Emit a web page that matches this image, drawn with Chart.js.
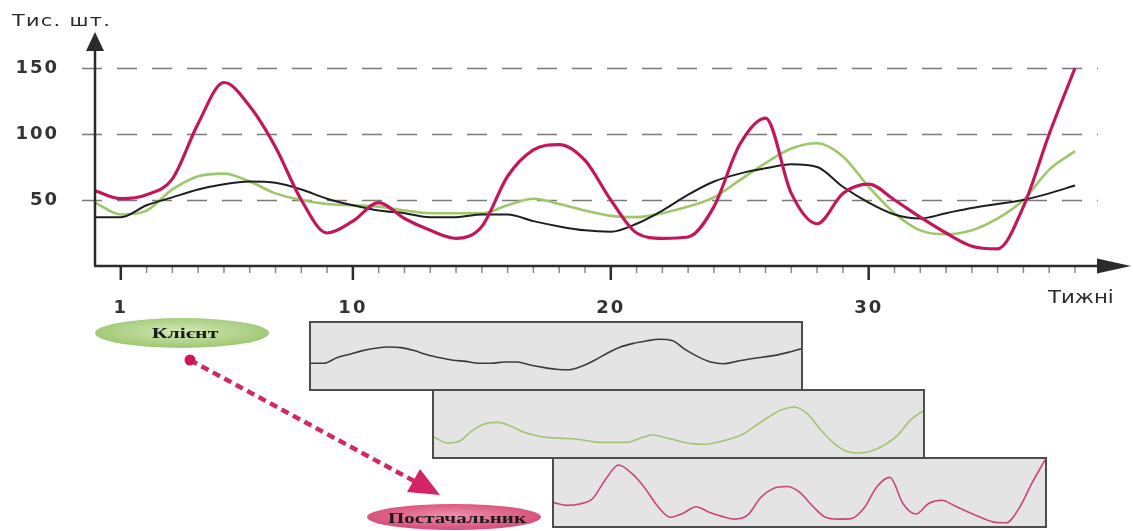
<!DOCTYPE html>
<html>
<head>
<meta charset="utf-8">
<script src="https://cdn.jsdelivr.net/npm/chart.js@4.4.1/dist/chart.umd.min.js"></script>
<style>
  body { margin: 0; background: #fff; }
  #wrap { position: relative; width: 1133px; height: 531px; overflow: hidden; background: #fff; }
  #mainChart { position: absolute; left: 0; top: 0; }
  .panel { position: absolute; box-sizing: border-box; background: #e4e4e4; border: 2px solid #4d4d4d; }
  .panel canvas { display: block; }
  .lbl { position: absolute; font-family: "DejaVu Sans", sans-serif; color: #2a2a2a; white-space: nowrap; transform-origin: left top; }
  #yTitle { left: 12px; top: 12px; font-size: 16px; line-height: 17px; letter-spacing: 1px; transform: scaleX(1.3); }
  #xTitle { left: 1048px; top: 288px; font-size: 17px; line-height: 18px; transform: scaleX(1.25); }
  #deco { position: absolute; left: 0; top: 0; }
</style>
</head>
<body>
<div id="wrap">
  <canvas id="mainChart" width="1133" height="320"></canvas>
  <div class="panel" style="left:309px;top:321px;width:494px;height:70px"><canvas id="panelClient" width="490" height="66"></canvas></div>
  <div class="panel" style="left:432px;top:389px;width:493px;height:70px"><canvas id="panelMiddle" width="489" height="66"></canvas></div>
  <div class="panel" style="left:552px;top:457px;width:495px;height:71px"><canvas id="panelSupplier" width="491" height="67"></canvas></div>
  <div class="lbl" id="yTitle">Тис. шт.</div>
  <div class="lbl" id="xTitle">Тижні</div>
  <svg id="deco" width="1133" height="531">
    <defs>
      <radialGradient id="gGreen" cx="50%" cy="45%" r="60%">
        <stop offset="0%" stop-color="#d3e8b4"/>
        <stop offset="100%" stop-color="#98c46c"/>
      </radialGradient>
      <radialGradient id="gPink" cx="50%" cy="45%" r="60%">
        <stop offset="0%" stop-color="#f090b0"/>
        <stop offset="100%" stop-color="#d4456f"/>
      </radialGradient>
    </defs>
    <ellipse cx="182" cy="333" rx="87" ry="15" fill="url(#gGreen)"/>
    <text transform="translate(185,338) scale(1.45,1)" text-anchor="middle" font-family="Liberation Serif, serif" font-size="15" font-weight="bold" fill="#1a1a1a">Клієнт</text>
    <line x1="190" y1="360" x2="414" y2="481" stroke="#d02a66" stroke-width="4.5" stroke-dasharray="8 5"/>
    <circle cx="190" cy="360" r="5.5" fill="#c8185a"/>
    <polygon points="440,495 407,492 420,469" fill="#d42466"/>
    <ellipse cx="454" cy="517" rx="87" ry="13" fill="url(#gPink)"/>
    <text transform="translate(457,523) scale(1.4,1)" text-anchor="middle" font-family="Liberation Serif, serif" font-size="15" font-weight="bold" fill="#1a1a1a">Постачальник</text>
  </svg>
</div>

<script>
// weeks on the x axis
const weeks = [0,1,2,3,4,5,6,7,8,9,10,11,12,13,14,15,16,17,18,19,20,21,22,23,24,25,26,27,28,29,30,31,32,33,34,35,36,37,38];
const tickWeeks = [1, 10, 20, 30];
const yTicks = [50, 100, 150];

// thousand pieces per week
const ordersClient   = [37,37,46,52,58,62,64,63,58,51,46,42,40,37,37,39,39,34,30,27,26,32,42,54,64,70,74,77,75,60,48,39,36,40,44,47,50,55,61];
const ordersMiddle   = [48,39,42,58,68,70,64,55,50,47,46,45,42,40,40,40,46,51,47,42,38,37,40,45,52,65,78,89,93,83,60,40,27,24,27,36,50,73,87];
const ordersSupplier = [57,51,54,66,108,139,121,90,50,25,34,48,36,27,21,30,68,88,92,80,50,25,21,22,45,92,112,55,32,55,62,50,37,25,15,13,45,100,150];

function toPoints(values) {
    return values.map((v, i) => ({ x: weeks[i], y: v }));
}

const axisDecor = {
    id: 'axisDecor',
    beforeDraw(chart) {
        // the source picture has wide lettering
        chart.ctx.letterSpacing = '2px';
    },
    beforeDatasetsDraw(chart) {
        const ctx = chart.ctx;
        const y = chart.scales.y;
        ctx.save();
        ctx.strokeStyle = '#7a7a7a';
        ctx.lineWidth = 1.3;
        ctx.setLineDash([20, 15]);
        yTicks.forEach(v => {
            let py = Math.round(y.getPixelForValue(v)) + 0.5;
            ctx.beginPath();
            ctx.moveTo(82, py);
            ctx.lineTo(1098, py);
            ctx.stroke();
        });
        ctx.restore();
    },
    afterDatasetsDraw(chart) {
        const ctx = chart.ctx;
        const a = chart.chartArea;
        const x = chart.scales.x;
        ctx.save();
        // week ticks
        weeks.forEach(w => {
            if (w === 0) return;
            let px = x.getPixelForValue(w);
            let major = tickWeeks.includes(w);
            ctx.lineWidth = major ? 2.5 : 1.5;
            ctx.strokeStyle = major ? '#2b2b2b' : '#8a8a8a';
            ctx.beginPath();
            ctx.moveTo(px, a.bottom);
            ctx.lineTo(px, a.bottom + (major ? 14 : 7));
            ctx.stroke();
        });
        // axis lines with arrows
        ctx.strokeStyle = '#2b2b2b';
        ctx.fillStyle = '#2b2b2b';
        ctx.lineWidth = 2.5;
        ctx.beginPath();
        ctx.moveTo(a.left, a.bottom);
        ctx.lineTo(a.left, 48);
        ctx.stroke();
        ctx.beginPath();
        ctx.moveTo(a.left - 1, a.bottom);
        ctx.lineTo(1100, a.bottom);
        ctx.stroke();
        ctx.beginPath();
        ctx.moveTo(a.left, 32);
        ctx.lineTo(a.left - 9, 51);
        ctx.lineTo(a.left + 9, 51);
        ctx.closePath();
        ctx.fill();
        ctx.beginPath();
        ctx.moveTo(1131, a.bottom);
        ctx.lineTo(1097, a.bottom - 7.5);
        ctx.lineTo(1097, a.bottom + 7.5);
        ctx.closePath();
        ctx.fill();
        ctx.restore();
    }
};

function showMainChart() {
    new Chart(document.getElementById('mainChart'), {
        type: 'line',
        data: {
            datasets: [
                { label: 'Постачальник', data: toPoints(ordersSupplier), borderColor: '#c2185b', borderWidth: 3.2, order: 0 },
                { label: 'Клієнт', data: toPoints(ordersClient), borderColor: '#1e1e1e', borderWidth: 2, order: 1 },
                { label: 'Посередник', data: toPoints(ordersMiddle), borderColor: '#9dc76a', borderWidth: 2.6, order: 2 }
            ]
        },
        options: {
            responsive: false,
            animation: false,
            layout: { padding: { top: 68, right: 58, bottom: 0, left: 0 } },
            elements: {
                point: { radius: 0 },
                line: { cubicInterpolationMode: 'monotone', fill: false }
            },
            datasets: { line: { clip: false } },
            plugins: { legend: { display: false }, tooltip: { enabled: false } },
            scales: {
                x: {
                    type: 'linear',
                    min: 0,
                    max: 38,
                    grid: { display: false },
                    border: { display: false },
                    ticks: {
                        stepSize: 1,
                        autoSkip: false,
                        maxRotation: 0,
                        padding: 24,
                        color: '#333',
                        font: { family: 'DejaVu Sans', size: 18, weight: 'bold' },
                        callback: v => tickWeeks.includes(v) ? String(v) : ''
                    },
                    afterFit: s => { s.height = 54; }
                },
                y: {
                    min: 0,
                    max: 150,
                    grid: { display: false },
                    border: { display: false },
                    ticks: {
                        stepSize: 50,
                        padding: 28,
                        color: '#333',
                        font: { family: 'DejaVu Sans', size: 18, weight: 'bold' },
                        callback: v => yTicks.includes(v) ? String(v) : ''
                    },
                    afterFit: s => { s.width = 95; }
                }
            }
        },
        plugins: [axisDecor]
    });
}

function showPanel(id, values, color, yMin, yMax) {
    new Chart(document.getElementById(id), {
        type: 'line',
        data: {
            datasets: [{ data: toPoints(values), borderColor: color, borderWidth: 1.6, pointRadius: 0, cubicInterpolationMode: 'monotone', clip: false }]
        },
        options: {
            responsive: false,
            animation: false,
            layout: { padding: 0 },
            plugins: { legend: { display: false }, tooltip: { enabled: false } },
            scales: {
                x: { type: 'linear', min: 0, max: 38, display: false },
                y: { min: yMin, max: yMax, display: false }
            }
        }
    });
}

showMainChart();
showPanel('panelClient', ordersClient, '#3c3c3c', -6, 104);
showPanel('panelMiddle', ordersMiddle, '#a3c474', 18, 117);
showPanel('panelSupplier', ordersSupplier, '#c9457a', 6, 152);
</script>
</body>
</html>
